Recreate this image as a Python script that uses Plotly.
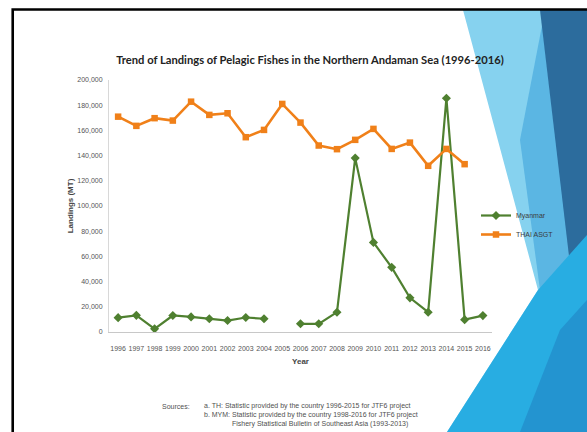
import plotly.graph_objects as go

# Landings of pelagic fishes (metric tonnes), northern Andaman Sea
years = list(range(1996, 2017))
myanmar = [11400, 13200, 2500, 13100, 12000, 10500, 9100, 11500, 10500, None,
           6500, 6500, 15700, 138000, 71100, 51300, 27100, 15700, 185500, 9800, 13000]
thai_asgt = [170900, 163600, 169700, 167800, 182800, 172300, 173600, 154600, 160400, 181000,
             166200, 148000, 145100, 152500, 161200, 145300, 150300, 131900, 145300, 133200, None]
y_ticks = list(range(0, 200001, 20000))

title_text = "Trend of Landings of Pelagic Fishes in the Northern Andaman Sea (1996-2016)"
source_lines = [
    "a. TH: Statistic provided by the country 1996-2015 for JTF6 project",
    "b. MYM: Statistic provided by the country 1998-2016 for JTF6 project",
    "Fishery Statistical Bulletin of Southeast Asia (1993-2013)",
]

W_FIG, H_FIG = 587, 432
L, R, T, B = 109, 95, 80, 100
PW = W_FIG - L - R
PH = H_FIG - T - B


def px(x):
    return (x - L) / PW


def py(y):
    return (H_FIG - B - y) / PH


def poly(points):
    return "M " + " L ".join(f"{px(x):.4f},{py(y):.4f}" for x, y in points) + " Z"


NARROW = "Liberation Sans Narrow, Arial Narrow, sans-serif"
GREEN = "#4f8030"
ORANGE = "#f08019"

fig = go.Figure()
fig.add_trace(go.Scatter(
    x=years, y=myanmar, name="Myanmar", mode="lines+markers",
    line=dict(color=GREEN, width=2.2),
    marker=dict(symbol="diamond", size=7, color=GREEN),
    connectgaps=False,
))
fig.add_trace(go.Scatter(
    x=years, y=thai_asgt, name="THAI ASGT", mode="lines+markers",
    line=dict(color=ORANGE, width=2.6),
    marker=dict(symbol="square", size=6.5, color=ORANGE),
    connectgaps=False,
))

# slide decoration behind the chart
shapes = [
    dict(type="path", path=poly([(463, 10), (587, 10), (587, 432), (447, 432), (538, 290)]),
         fillcolor="#86d2ef", line=dict(width=0)),
    dict(type="path", path=poly([(520, 140), (545, 10), (587, 10), (587, 330), (540, 290)]),
         fillcolor="#5bb6e3", line=dict(width=0)),
    dict(type="path", path=poly([(540, 10), (587, 10), (587, 330), (573, 290)]),
         fillcolor="#2c6c9d", line=dict(width=0)),
    dict(type="path", path=poly([(538, 290), (587, 235), (587, 432), (447, 432)]),
         fillcolor="#28ade2", line=dict(width=0)),
    dict(type="path", path=poly([(560, 330), (587, 300), (587, 432), (520, 432)]),
         fillcolor="#2394d0", line=dict(width=0)),
    dict(type="path", path=f"M {px(12.7):.4f},{py(432):.4f} L {px(12.7):.4f},{py(9.5):.4f} L {px(587):.4f},{py(9.5):.4f}",
         line=dict(color="black", width=2.6)),
]
for s in shapes:
    s.update(xref="paper", yref="paper", layer="below")

annotations = [
    dict(text="Sources:", x=px(160), y=py(406), xanchor="left", yanchor="middle",
         font=dict(family=NARROW, size=7, color="#505050")),
]
for i, (line, x0) in enumerate(zip(source_lines, [202, 202, 230])):
    annotations.append(dict(text=line, x=px(x0), y=py(406 + 9 * i), xanchor="left", yanchor="middle",
                            font=dict(family=NARROW, size=7, color="#505050")))
for a in annotations:
    a.update(xref="paper", yref="paper", showarrow=False)

fig.update_layout(
    width=W_FIG, height=H_FIG,
    margin=dict(l=L, r=R, t=T, b=B),
    paper_bgcolor="white", plot_bgcolor="rgba(0,0,0,0)",
    title=dict(text=f"<b>{title_text}</b>", x=310 / W_FIG, xanchor="center",
               y=1 - 60 / H_FIG, yanchor="middle",
               font=dict(family="Lato, Carlito, sans-serif", size=11.2, color="#222222")),
    xaxis=dict(range=[1995.5, 2016.5], tickvals=years, ticktext=[str(y) for y in years],
               showgrid=False, zeroline=False, showline=True, linecolor="#c8c8c8", linewidth=1,
               ticks="", ticklabelstandoff=10,
               tickfont=dict(family=NARROW, size=7, color="#555555"),
               title=dict(text="<b>Year</b>", standoff=6,
                          font=dict(family=NARROW, size=8, color="#444444"))),
    yaxis=dict(range=[0, 200000], tickvals=y_ticks, tickformat=",",
               showgrid=False, zeroline=False, showline=True, linecolor="#d8d8d8", linewidth=1,
               ticks="", ticklabelstandoff=4,
               tickfont=dict(family=NARROW, size=7, color="#555555"),
               title=dict(text="<b>Landings (MT)</b>", standoff=2,
                          font=dict(family=NARROW, size=8, color="#444444"))),
    legend=dict(x=px(476), y=py(201), xanchor="left", yanchor="top",
                bgcolor="rgba(0,0,0,0)", itemwidth=30, tracegroupgap=0,
                font=dict(family=NARROW, size=7, color="#3c3c3c")),
    shapes=shapes, annotations=annotations,
)

fig.write_html("out.html")
